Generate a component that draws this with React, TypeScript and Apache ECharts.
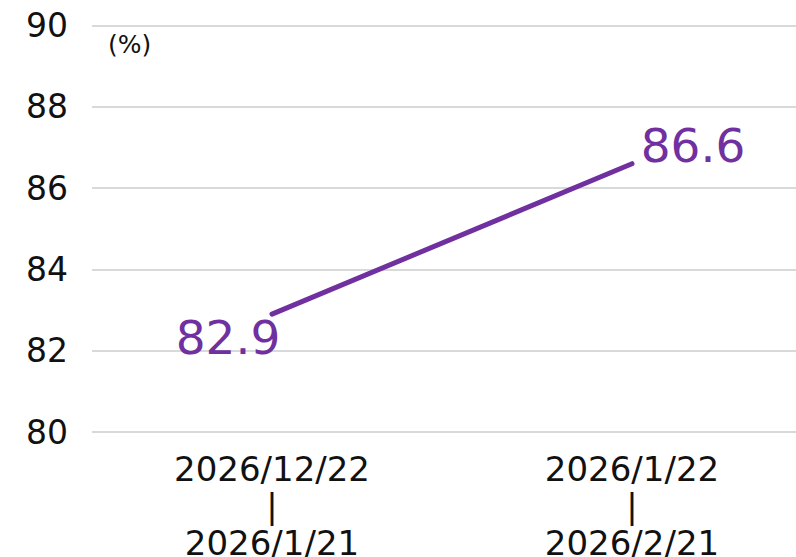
import React, { useEffect, useRef } from "react";
import * as echarts from "echarts";

const categories = ["2026/12/22\n|\n2026/1/21", "2026/1/22\n|\n2026/2/21"];
const values = [82.9, 86.6];
const yMin = 80;
const yMax = 90;
const yInterval = 2;
const unitLabel = "(%)";

const FONT = "'DejaVu Sans', 'Noto Sans CJK JP', sans-serif";
const PURPLE = "#7030a0";

export default function App() {
  const ref = useRef<HTMLDivElement>(null);
  useEffect(() => {
    if (!ref.current) return;
    const chart = echarts.init(ref.current, undefined, { renderer: "svg" });
    chart.setOption({
      animation: false,
      backgroundColor: "#ffffff",
      grid: {
        left: 92,
        width: 720,
        top: 25.5,
        bottom: 125,
        outerBoundsMode: "none",
        containLabel: false,
      },
      xAxis: {
        type: "category",
        data: categories,
        boundaryGap: true,
        axisLine: { show: false },
        axisTick: { show: false },
        axisLabel: {
          color: "#111",
          fontSize: 34,
          lineHeight: 37,
          fontFamily: FONT,
          margin: 18,
          interval: 0,
        },
      },
      yAxis: {
        type: "value",
        min: yMin,
        max: yMax,
        interval: yInterval,
        axisLine: { show: false },
        axisTick: { show: false },
        axisLabel: {
          color: "#111",
          fontSize: 33,
          fontFamily: FONT,
          margin: 24,
        },
        splitLine: { lineStyle: { color: "#d9d9d9", width: 2 } },
      },
      graphic: [
        {
          type: "text",
          left: 108,
          top: 32,
          style: { text: unitLabel, fontSize: 25, fontFamily: FONT, fill: "#111" },
        },
      ],
      series: [
        {
          type: "line",
          data: values.map((v, i) => ({
            value: v,
            label: {
              offset: i === 0 ? [-44, 23] : [61, -18],
            },
          })),
          symbol: "circle",
          symbolSize: 0.1,
          itemStyle: { color: PURPLE },
          lineStyle: { color: PURPLE, width: 5, cap: "round" },
          label: {
            show: true,
            position: "inside",
            color: PURPLE,
            fontSize: 47,
            fontFamily: FONT,
            formatter: (p: any) => p.value.toFixed(1),
          },
        },
      ],
    });
    return () => chart.dispose();
  }, []);
  return (
    <div
      ref={ref}
      style={{ position: "absolute", left: 0, top: 0, width: 796, height: 557 }}
    />
  );
}
